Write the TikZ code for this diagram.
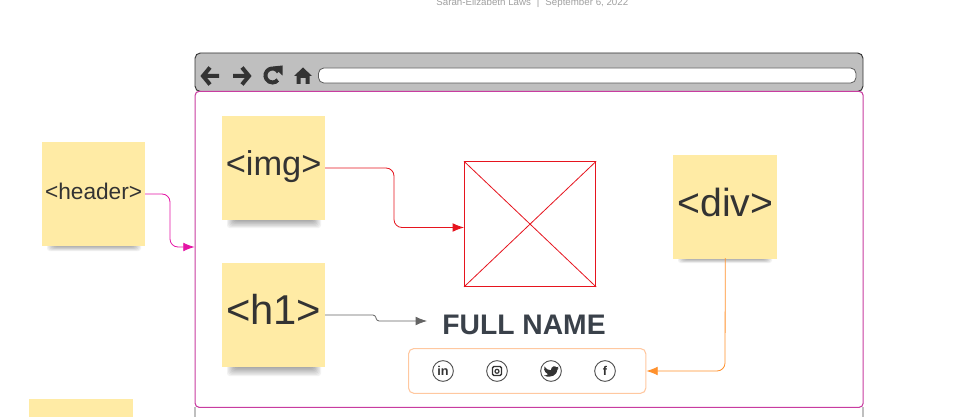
\documentclass[tikz,border=0pt]{standalone}
\usepackage{fontspec}
\setmainfont{Liberation Sans}
\usetikzlibrary{arrows.meta}
\definecolor{notefill}{RGB}{255,235,165}
\definecolor{notetext}{RGB}{58,65,74}
\definecolor{barfill}{RGB}{191,191,191}
\definecolor{iconink}{RGB}{51,51,51}
\definecolor{framepink}{RGB}{200,60,160}
\definecolor{linkpink}{RGB}{228,20,165}
\definecolor{linkred}{RGB}{230,20,30}
\definecolor{linkgray}{RGB}{100,100,100}
\definecolor{linkorange}{RGB}{255,145,45}
\definecolor{rowedge}{RGB}{255,200,160}
\tikzset{
  notebox/.style={fill=notefill,minimum width=77pt,minimum height=77.5pt,inner sep=0pt,text=iconink,anchor=north west},
  noteshadow/.style={fill=black,fill opacity=0.05,rounded corners=2pt},
  link/.style={rounded corners=6pt,line width=0.6pt,-{Latex[length=8.5pt,width=6.5pt]}},
  socialring/.style={circle,draw=iconink!85,line width=0.7pt,minimum size=15.5pt,inner sep=0pt,text=iconink,font=\bfseries\fontsize{9.5}{9.5}\selectfont},
  toolicon/.style={iconink,line width=3pt},
}
\newcommand{\noteshade}[3]{% left x, bottom y, depth
  \foreach \d in {0,...,7}
    \fill[noteshadow] (#1+5+\d*1.2,#2-4) rectangle (#1+99-\d*1.2,#2+#3-\d*#3/8);
}
\begin{document}
\begin{tikzpicture}[x=0.75pt,y=0.75pt,yscale=-1,xscale=1]
  \useasboundingbox (0,0) rectangle (967,417);

  % caption
  \node[text=gray!75,font=\fontsize{7.3}{9}\selectfont] (caption) at (532.3,3.5) {Sarah-Elizabeth Laws\,\, |\,\, September 6, 2022};

  % browser
  \draw[barfill,line width=0.8pt] (195,407) -- (195,417) (863,407) -- (863,417);
  \draw[draw=iconink,fill=barfill,rounded corners=4pt,line width=0.7pt] (195,53) rectangle (863,91.5);
  \draw[draw=iconink!80,fill=white,rounded corners=4pt,line width=0.6pt] (318.5,68) rectangle (856,83);
  \node[draw=framepink,rounded corners=3pt,line width=0.8pt,fill=white,minimum width=501pt,minimum height=237pt,inner sep=0pt,anchor=north west] (page) at (194.6,90.8) {};

  % toolbar icons
  \draw[toolicon] (210,67.5) -- (203,76) -- (210,84.5) (203,76) -- (219,76);
  \draw[toolicon] (242,67.5) -- (249,76) -- (242,84.5) (233,76) -- (249,76);
  \draw[toolicon] (278.5,72) arc[start angle=-30,end angle=-320,radius=7];
  \fill[iconink] (273,66.5) -- (282.5,65.5) -- (282.5,75.5) -- cycle;
  \fill[iconink] (294,76) -- (303,67.5) -- (312,76) -- (309.5,76) -- (309.5,84) -- (305.5,84) -- (305.5,78) -- (300.5,78) -- (300.5,84) -- (296.5,84) -- (296.5,76) -- cycle;

  % shadows under notes
  \noteshade{42}{245}{6}
  \noteshade{222}{219}{9}
  \noteshade{222}{366}{10}
  \noteshade{673}{258}{5}

  % notes
  \node[notebox,font=\fontsize{17}{20}\selectfont] (header) at (42,142) {\raisebox{4pt}{<header>}};
  \node[notebox,font=\fontsize{25.8}{30}\selectfont] (img) at (222,116) {\raisebox{7pt}{<img>}};
  \node[notebox,font=\fontsize{31.3}{34}\selectfont] (hone) at (222,263) {\raisebox{8.5pt}{<h1>}};
  \node[notebox,minimum width=78pt,font=\fontsize{29.4}{34}\selectfont] (divnote) at (673,155) {\raisebox{7pt}{<div>}};
  \fill[notefill] (29,399) rectangle (133,417);

  % image placeholder
  \node[draw=linkred,line width=0.6pt,fill=white,minimum width=98.5pt,minimum height=93.6pt,inner sep=0pt,anchor=north west] (photo) at (464,161.3) {};
  \draw[linkred,line width=0.6pt] (photo.north west) -- (photo.south east) (photo.south west) -- (photo.north east);

  % name and social row
  \node[text=notetext,font=\bfseries\fontsize{21.2}{24}\selectfont] (fullname) at (524,325) {FULL NAME};
  \node[draw=rowedge,rounded corners=4pt,line width=0.8pt,minimum width=178pt,minimum height=33.6pt,inner sep=0pt,anchor=north west] (social) at (408,348) {};
  \node[socialring] (linkedin) at (443,371) {in};
  \node[socialring] (instagram) at (497,371) {};
  \node[socialring] (twitter) at (551,371) {};
  \node[socialring] (facebook) at (605,371) {f};
  \draw[iconink,line width=1.1pt,rounded corners=1pt] (492.5,366.5) rectangle (501.5,375.5);
  \draw[iconink,line width=0.9pt] (497,371.3) circle[radius=2];
  \fill[iconink] (544.5,366.5) .. controls (546,369.5) and (548.5,370) .. (551,370.2) .. controls (550.8,366.5) and (555,365) .. (556.5,367.3) -- (558.5,366.7) -- (557.3,368.6) -- (558.5,368.4) -- (557.4,369.7) .. controls (557.5,374.5) and (551,379) .. (544,375.5) .. controls (546,375.5) and (547.2,375) .. (548,374.2) .. controls (546.5,374) and (545.8,373.2) .. (545.4,372.2) .. controls (544.8,371.6) and (544,370.5) .. (544.2,369.6) .. controls (543.8,368.5) and (544,367.5) .. (544.5,366.5) -- cycle;

  % connectors
  \coordinate (headerelbow) at (170,247);
  \draw[link,draw=linkpink] (header.east |- 0,194) -- (170,194) -- (headerelbow) -- (page.west |- headerelbow);
  \coordinate (imgelbow) at (394,227.5);
  \draw[link,draw=linkred] (img.east |- 0,168) -- (394,168) -- (imgelbow) -- (photo.west |- imgelbow);
  \draw[link,rounded corners=2pt,draw=linkgray] (hone.east |- 0,315) -- (375.5,315) -- (376.5,321) -- (427,321);
  \draw[link,draw=linkorange] (divnote.south |- 0,258) -- (725,371) -- (social.east |- 0,371);
\end{tikzpicture}
\end{document}
